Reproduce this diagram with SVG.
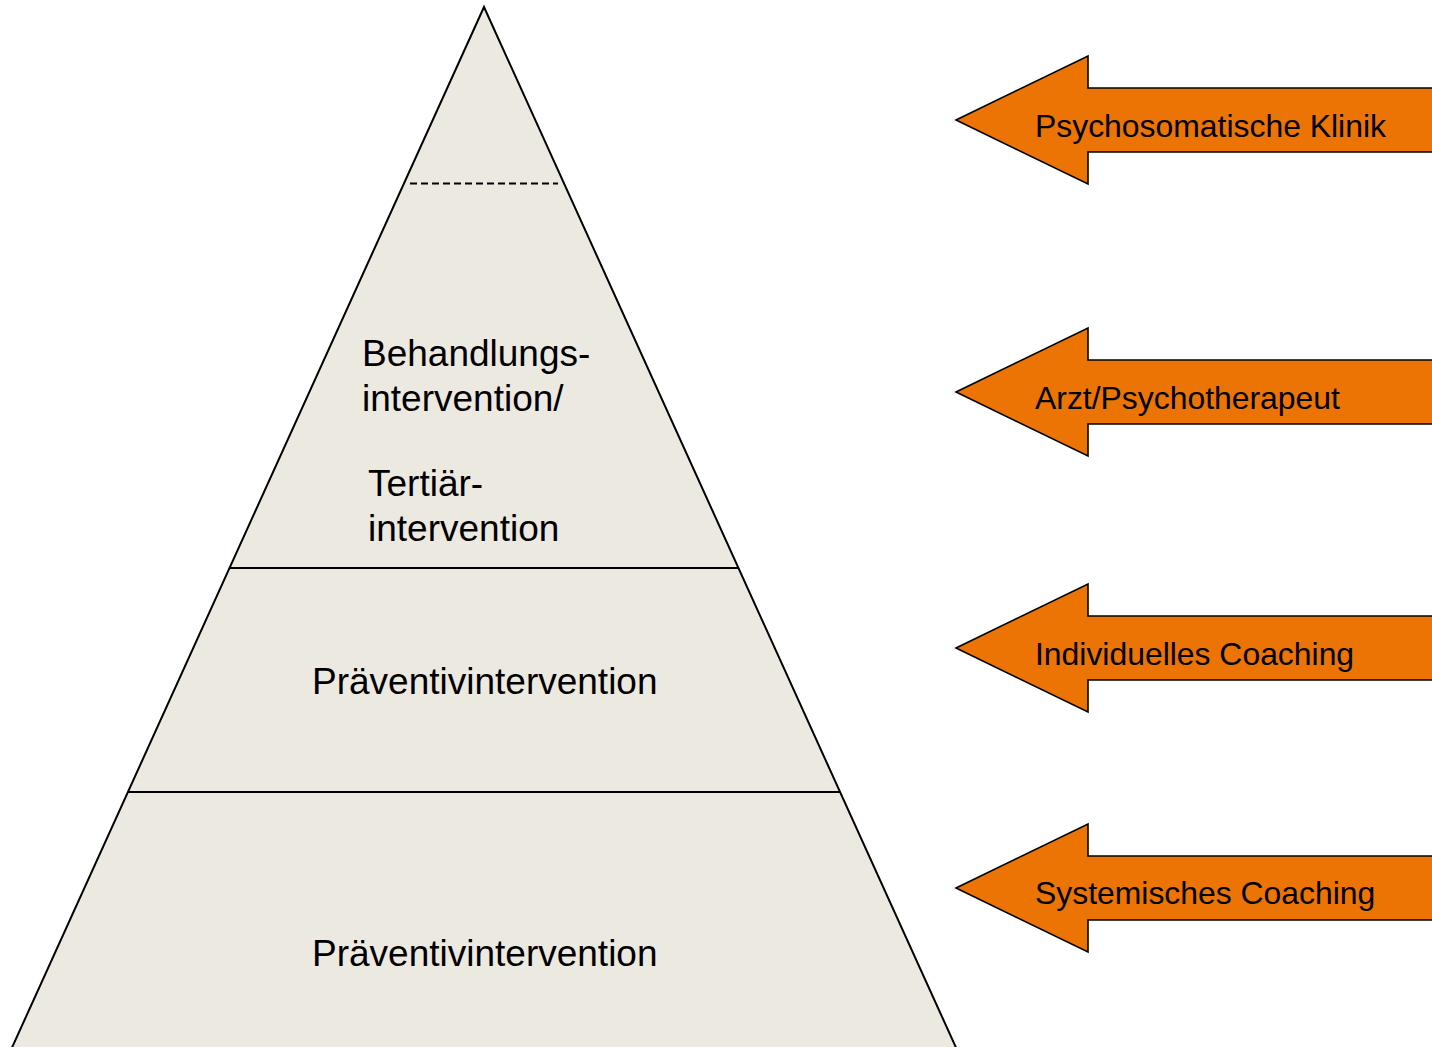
<svg xmlns="http://www.w3.org/2000/svg" width="1432" height="1047" viewBox="0 0 1432 1047">
  <style>
    .pyr { fill: #ECE9E1; stroke: #000; stroke-width: 2; stroke-linejoin: miter; }
    .div { stroke: #000; stroke-width: 2; fill: none; }
    .dash { stroke: #000; stroke-width: 2; stroke-dasharray: 7 4; fill: none; }
    .lvl { font-family: "Liberation Sans", Arial, sans-serif; font-size: 37px; fill: #000; }
    .arrow { fill: #EC7405; stroke: #000; stroke-width: 1.6; stroke-linejoin: miter; }
    .lbl { font-family: "Liberation Sans", Arial, sans-serif; font-size: 31.9px; fill: #000; }
  </style>

  <!-- Pyramid body -->
  <g id="pyramid">
    <polygon class="pyr" points="484,7 958,1052 10,1052"/>
  </g>

  <!-- Level separators -->
  <g id="connectors">
    <line class="dash" x1="410" y1="183.5" x2="558" y2="183.5"/>
    <line class="div" x1="230" y1="568" x2="738" y2="568"/>
    <line class="div" x1="128" y1="792" x2="840" y2="792"/>
  </g>

  <!-- Level labels -->
  <g id="level-treatment">
    <text class="lvl" x="362" y="366">Behandlungs-</text>
    <text class="lvl" x="362" y="411">intervention/</text>
    <text class="lvl" x="368" y="496">Tertiär-</text>
    <text class="lvl" x="368" y="541">intervention</text>
  </g>
  <g id="level-prevention-1">
    <text class="lvl" x="312" y="694">Präventivintervention</text>
  </g>
  <g id="level-prevention-2">
    <text class="lvl" x="312" y="966">Präventivintervention</text>
  </g>

  <!-- Provider arrows -->
  <g id="arrow-klinik">
    <polygon class="arrow" points="956,120 1088,56 1088,88 1440,88 1440,152 1088,152 1088,184"/>
    <text class="lbl" x="1035" y="137">Psychosomatische Klinik</text>
  </g>
  <g id="arrow-arzt">
    <polygon class="arrow" points="956,392 1088,328 1088,360 1440,360 1440,424 1088,424 1088,456"/>
    <text class="lbl" x="1035" y="409">Arzt/Psychotherapeut</text>
  </g>
  <g id="arrow-individuell">
    <polygon class="arrow" points="956,648 1088,584 1088,616 1440,616 1440,680 1088,680 1088,712"/>
    <text class="lbl" x="1035" y="665">Individuelles Coaching</text>
  </g>
  <g id="arrow-systemisch">
    <polygon class="arrow" points="956,888 1088,824 1088,856 1440,856 1440,920 1088,920 1088,952"/>
    <text class="lbl" x="1035" y="904">Systemisches Coaching</text>
  </g>
</svg>
